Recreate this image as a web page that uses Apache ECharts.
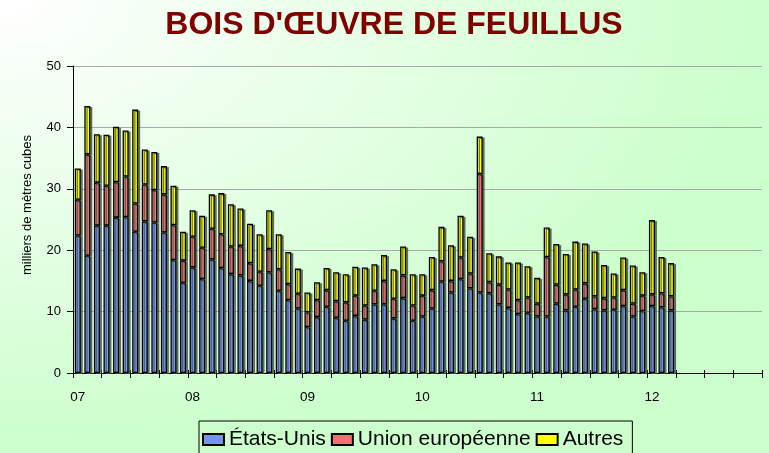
<!DOCTYPE html>
<html>
<head>
<meta charset="utf-8">
<script src="https://cdn.jsdelivr.net/npm/echarts@6/dist/echarts.min.js"></script>
<style>
  html, body { margin: 0; padding: 0; }
  #chart { width: 769px; height: 453px; }
</style>
</head>
<body>
<div id="chart"></div>
<script>
// Hardwood lumber, monthly volumes (thousand cubic metres), Jan 2007 – Mar 2012
const years = ['07', '08', '09', '10', '11', '12'];
const monthsPerYear = 12;

const etatsUnis = [
  22.4, 19.1, 24.0, 24.0, 25.3, 25.4, 23.0, 24.7, 24.5, 22.9, 18.4, 14.7,
  17.2, 15.3, 18.5, 17.1, 16.1, 15.9, 15.0, 14.2, 16.4, 13.4, 11.9, 10.5,
  7.5, 9.1, 10.8, 9.0, 8.5, 9.3, 8.7, 11.2, 11.2, 8.9, 12.2, 8.5,
  9.2, 10.5, 14.9, 13.1, 15.3, 13.8, 13.1, 13.0, 11.2, 10.6, 9.6, 9.8,
  9.2, 9.2, 11.3, 10.2, 10.8, 12.1, 10.4, 10.2, 10.3, 10.9, 9.2, 10.1,
  10.9, 10.7, 10.2
];
const unionEuropeenne = [
  5.8, 16.5, 7.0, 6.5, 5.8, 6.6, 4.6, 6.0, 5.3, 6.2, 5.7, 3.6,
  5.0, 5.1, 5.0, 5.5, 4.5, 4.8, 2.9, 2.3, 3.8, 3.5, 2.6, 2.4,
  2.4, 2.8, 2.7, 2.7, 3.0, 3.3, 2.3, 2.2, 3.8, 3.2, 3.7, 2.5,
  3.4, 3.0, 3.3, 1.9, 3.5, 2.4, 19.3, 1.8, 3.2, 3.0, 2.3, 2.5,
  2.1, 9.7, 3.1, 2.6, 2.8, 2.5, 2.1, 2.0, 2.0, 2.6, 2.1, 2.5,
  1.9, 2.3, 2.3
];
const autres = [
  5.1, 7.9, 7.9, 8.3, 9.0, 7.5, 15.3, 5.7, 6.2, 4.6, 6.4, 4.7,
  4.3, 5.2, 5.6, 6.7, 6.9, 6.1, 6.4, 6.1, 6.3, 5.7, 5.2, 4.1,
  3.2, 2.9, 3.6, 4.7, 4.6, 4.7, 6.2, 4.3, 4.2, 4.8, 4.7, 5.1,
  3.5, 5.4, 5.6, 5.8, 6.8, 6.0, 6.1, 4.7, 4.6, 4.4, 6.1, 5.1,
  4.2, 4.8, 6.6, 6.6, 7.8, 6.5, 7.3, 5.4, 3.9, 5.3, 6.2, 3.8,
  12.1, 5.9, 5.4
];

const seriesNames = ['États-Unis', 'Union européenne', 'Autres'];
const seriesColors = ['#7494f6', '#f27272', '#ffff00'];
const yTicks = { min: 0, max: 50, interval: 10 };
const titleText = "BOIS D'ŒUVRE DE FEUILLUS";
const yAxisTitle = 'milliers de mètres cubes';

// one category per month over the full six-year axis
const categories = [];
years.forEach(y => {
  for (let m = 1; m <= monthsPerYear; m++) {
    categories.push(y + '-' + String(m).padStart(2, '0'));
  }
});

const FONT = "'Liberation Sans', Arial, sans-serif";

function barSeries(name, values, color) {
  return {
    name: name,
    type: 'bar',
    stack: 'total',
    barWidth: 6,
    xAxisIndex: 0,
    data: values,
    itemStyle: {
      color: color,
      borderColor: '#000',
      borderWidth: 1.3,
      shadowColor: 'rgba(70,85,70,0.75)',
      shadowOffsetX: 2,
      shadowOffsetY: 1,
      shadowBlur: 0
    },
    emphasis: { disabled: true }
  };
}

const chart = echarts.init(document.getElementById('chart'), null, { renderer: 'canvas' });

chart.setOption({
  animation: false,
  backgroundColor: 'transparent',
  textStyle: { fontFamily: FONT },
  graphic: [
    {
      type: 'rect',
      silent: true,
      z: -100,
      x: 0, y: 0,
      scaleY: 453 / 769,
      shape: { x: 0, y: 0, width: 769, height: 769 },
      style: {
        fill: {
          type: 'radial', x: 0, y: 0, r: 1,
          colorStops: [
            { offset: 0, color: '#ffffff' },
            { offset: 1, color: '#ccffcc' }
          ]
        }
      }
    },
    {
      type: 'text',
      silent: true,
      style: {
        text: titleText,
        x: 394, y: 25,
        textAlign: 'center',
        textVerticalAlign: 'middle',
        font: 'bold 32px ' + FONT,
        fill: '#800000'
      }
    },
    {
      type: 'text',
      silent: true,
      x: 27, y: 205,
      rotation: Math.PI / 2,
      style: {
        text: yAxisTitle,
        textAlign: 'center',
        textVerticalAlign: 'middle',
        font: '13px ' + FONT,
        fill: '#000'
      }
    }
  ],
  legend: {
    left: 199,
    top: 421,
    orient: 'horizontal',
    data: seriesNames,
    icon: 'rect',
    itemWidth: 21,
    itemHeight: 11,
    symbolKeepAspect: true,
    itemGap: 5,
    padding: [8, 9, 8, 3],
    borderColor: '#000',
    borderWidth: 1,
    backgroundColor: 'transparent',
    selectedMode: false,
    textStyle: { fontSize: 21, color: '#000', fontFamily: FONT }
  },
  grid: { left: 73, right: 7, top: 66, bottom: 80, containLabel: false },
  xAxis: [
    {
      type: 'category',
      data: categories,
      boundaryGap: true,
      axisLine: { show: true, lineStyle: { color: '#000', width: 1 } },
      axisTick: { show: true, interval: 2, length: 5, inside: false, lineStyle: { color: '#000' } },
      axisLabel: {
        interval: monthsPerYear - 1,
        margin: 17,
        fontSize: 13.5,
        color: '#000',
        fontFamily: FONT,
        formatter: v => v.split('-')[0]
      },
      splitLine: { show: false }
    },
    {
      type: 'category',
      data: categories,
      position: 'bottom',
      boundaryGap: true,
      axisLine: { show: false },
      axisTick: { show: true, interval: 2, length: 3, inside: true, lineStyle: { color: '#000' } },
      axisLabel: { show: false },
      splitLine: { show: false }
    }
  ],
  yAxis: {
    type: 'value',
    min: yTicks.min,
    max: yTicks.max,
    interval: yTicks.interval,
    axisLine: { show: true, lineStyle: { color: '#000', width: 1 } },
    axisTick: { show: true, length: 6, lineStyle: { color: '#000' } },
    axisLabel: { margin: 12, fontSize: 13, color: '#000', fontFamily: FONT },
    splitLine: { show: true, lineStyle: { color: '#a8a8a8', width: 1 } }
  },
  series: [
    barSeries(seriesNames[0], etatsUnis, seriesColors[0]),
    barSeries(seriesNames[1], unionEuropeenne, seriesColors[1]),
    barSeries(seriesNames[2], autres, seriesColors[2])
  ]
});
</script>
</body>
</html>
